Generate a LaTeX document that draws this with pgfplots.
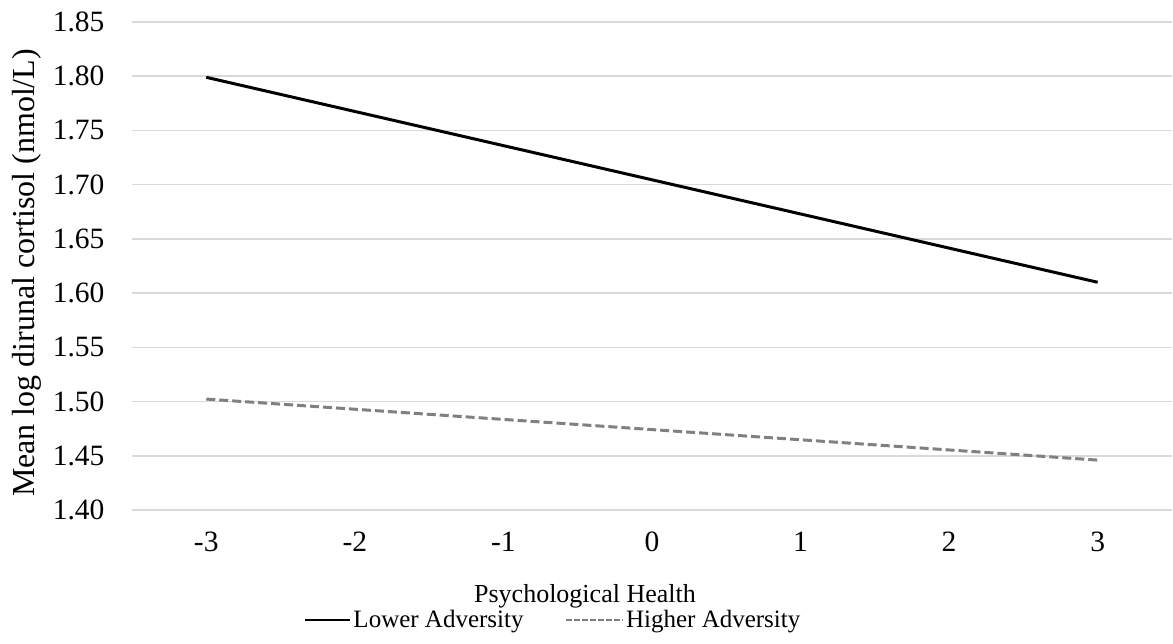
\documentclass[border=0pt]{standalone}
\usepackage{pgfplots}
\pgfplotsset{compat=1.18}
\usepackage{fontspec}
\setmainfont{Liberation Serif}
\definecolor{gridgray}{HTML}{D9D9D9}
\definecolor{dashgray}{HTML}{808080}
\begin{document}
\begin{tikzpicture}
\begin{axis}[
  scale only axis,
  width=1040pt, height=488pt,
  xmin=-3.5, xmax=3.5,
  ymin=1.40, ymax=1.85,
  xtick={-3,-2,-1,0,1,2,3},
  xticklabels={-3,-2,-1,0,1,2,3},
  ytick={1.40,1.45,1.50,1.55,1.60,1.65,1.70,1.75,1.80,1.85},
  yticklabels={1.40,1.45,1.50,1.55,1.60,1.65,1.70,1.75,1.80,1.85},
  ymajorgrids,
  grid style={gridgray, line width=1.5pt},
  axis line style={draw=none},
  tick style={draw=none},
  tick label style={font=\fontsize{29.5}{34}\selectfont},
  yticklabel style={xshift=-24pt},
  xticklabel style={yshift=-18pt},
  xlabel={Psychological Health},
  ylabel={Mean log dirunal cortisol (nmol/L)},
  xlabel style={font=\fontsize{26}{30}\selectfont, at={(axis description cs:0.4356,-0.1762)}, anchor=center},
  ylabel style={font=\fontsize{32}{36}\selectfont, at={(axis description cs:-0.1014,0.4857)}, anchor=center},
  legend columns=2,
  legend style={at={(axis description cs:0.405,-0.2254)}, anchor=center, draw=none, fill=none,
    font=\fontsize{25}{30}\selectfont, /tikz/every even column/.append style={column sep=40pt}},
  legend cell align=left,
]
\addplot[black, line width=3pt, legend image code/.code={\draw[black, line width=2.5pt] (0pt,0pt) -- (45pt,0pt);}]
  coordinates {(-3,1.799) (3,1.610)};
\addlegendentry{Lower Adversity}
\addplot[dashgray, line width=3pt, dash pattern=on 9pt off 4pt, legend image code/.code={\draw[dashgray, line width=1.5pt, dash pattern=on 6pt off 2pt] (0pt,0pt) -- (57pt,0pt);}]
  coordinates {(-3,1.5023) (3,1.446)};
\addlegendentry{Higher Adversity}
\end{axis}
\pgfresetboundingbox
\path (-132pt,-133pt) rectangle (1041pt,510pt);
\end{tikzpicture}
\end{document}
